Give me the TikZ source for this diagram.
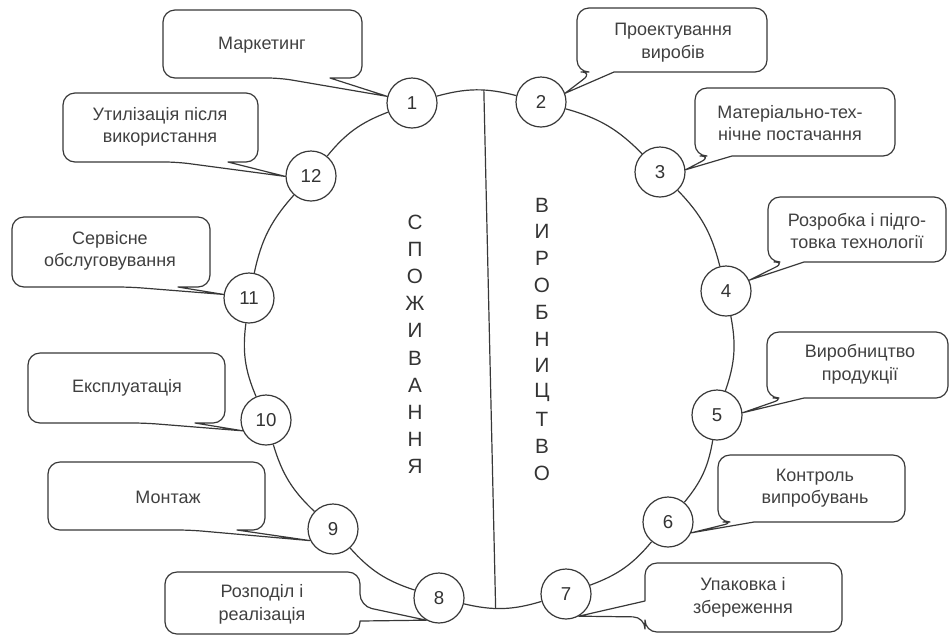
\documentclass[tikz,border=0pt]{standalone}
\usepackage{fontspec}
\setmainfont{Liberation Sans}
\begin{document}
\begin{tikzpicture}[x=0.75pt,y=-0.75pt,
  ln/.style={draw=black!78, line width=0.9pt},
  num/.style={circle, ln, fill=white, minimum size=37.5pt, inner sep=0pt, font=\fontsize{14}{16}\selectfont, text=black!80},
  lbl/.style={align=center, font=\fontsize{13.5}{17}\selectfont, text=black!75},
  bub/.style={ln, line join=round},
  vert/.style={font=\fontsize{15.5}{16}\selectfont, text=black!80}]
\useasboundingbox (0,0) rectangle (952,637);
% numbered circles
\node[num] (c1) at (412,103) {1};
\node[num] (c2) at (541,102) {2};
\node[num] (c3) at (660,172) {3};
\node[num] (c4) at (726,291) {4};
\node[num] (c5) at (717,415) {5};
\node[num] (c6) at (668,522) {6};
\node[num] (c7) at (566,594) {7};
\node[num] (c8) at (439,598) {8};
\node[num] (c9) at (333,529) {9};
\node[num] (c10) at (266,420) {10};
\node[num] (c11) at (249,298) {11};
\node[num] (c12) at (311,176) {12};
% ring
\draw[ln] (c1) to[bend left=15] node[coordinate,pos=0.6] (dtop) {} (c2);
\draw[ln] (c2) to[bend left=15] (c3);
\draw[ln] (c3) to[bend left=15] (c4);
\draw[ln] (c4) to[bend left=15] (c5);
\draw[ln] (c5) to[bend left=15] (c6);
\draw[ln] (c6) to[bend left=15] (c7);
\draw[ln] (c7) to[bend left=15] node[coordinate,pos=0.6] (dbot) {} (c8);
\draw[ln] (c8) to[bend left=15] (c9);
\draw[ln] (c9) to[bend left=15] (c10);
\draw[ln] (c10) to[bend left=15] (c11);
\draw[ln] (c11) to[bend left=15] (c12);
\draw[ln] (c12) to[bend left=15] (c1);
\draw[ln] (dtop) -- (dbot);
% vertical words
\foreach \ch [count=\i] in {С,П,О,Ж,И,В,А,Н,Н,Я}
  \node[vert] (s\i) at (415,{222+27.2*(\i-1)}) {\ch};
\foreach \ch [count=\i] in {В,И,Р,О,Б,Н,И,Ц,Т,В,О}
  \node[vert] (v\i) at (542,{205+26.8*(\i-1)}) {\ch};
% callout texts
\node[lbl] (t1) at (262,45) {Маркетинг};
\node[lbl] (t2) at (673,43) {Проектування\\виробів};
\node[lbl] (t3) at (790,123) {Матеріально-тех-\\нічне постачання};
\node[lbl] (t4) at (857,231) {Розробка і підго-\\товка технології};
\node[lbl] (t5) at (860,364) {Виробництво\\продукції};
\node[lbl] (t6) at (815,488) {Контроль\\випробувань};
\node[lbl] (t7) at (743,597) {Упаковка і\\збереження};
\node[lbl] (t8) at (262,604) {Розподіл і\\реалізація};
\node[lbl] (t9) at (168,497) {Монтаж};
\node[lbl] (t10) at (127,388) {Експлуатація};
\node[lbl] (t11) at (110,251) {Сервісне\\обслуговування};
\node[lbl] (t12) at (160,127) {Утилізація після\\використання};
% callout outlines
\draw[bub] (330,78) [rounded corners=9pt] -- (362,78) -- (362,10) -- (163,10) -- (163,78) -- (280,78) [sharp corners] -- (c1.165) -- cycle;
\draw[bub] (228,162) [rounded corners=9pt] -- (258,162) -- (258,93) -- (63,93) -- (63,162) -- (177,162) [sharp corners] -- (c12.181) -- cycle;
\draw[bub] (178,287) [rounded corners=9pt] -- (210,287) -- (210,217) -- (12,217) -- (12,287) -- (130,287) [sharp corners] -- (c11.172) -- cycle;
\draw[bub] (195,423) [rounded corners=9pt] -- (225,423) -- (225,353) -- (28,353) -- (28,423) -- (145,423) [sharp corners] -- (c10.205) -- cycle;
\draw[bub] (237,530) [rounded corners=9pt] -- (265,530) -- (265,462) -- (48,462) -- (48,530) -- (190,530) [sharp corners] -- (c9.207) -- cycle;
\draw[bub] (614,72) [rounded corners=9pt] -- (767,72) -- (767,8) -- (577,8) -- (577,72) -- (593,72) [sharp corners] -- (c2.20) -- cycle;
\draw[bub] (732,156) [rounded corners=9pt] -- (895,156) -- (895,88) -- (695,88) -- (695,156) -- (712,156) [sharp corners] -- (c3.5) -- cycle;
\draw[bub] (804,262) [rounded corners=9pt] -- (946,262) -- (946,197) -- (768,197) -- (768,262) -- (786,262) [sharp corners] -- (c4.25) -- cycle;
\draw[bub] (804,398) [rounded corners=9pt] -- (948,398) -- (948,332) -- (767,332) -- (767,398) -- (785,398) [sharp corners] -- (c5.5) -- cycle;
\draw[bub] (754,522) [rounded corners=9pt] -- (905,522) -- (905,455) -- (718,455) -- (718,522) -- (735,522) [sharp corners] -- (c6.-25) -- cycle;
\draw[bub] (645,601) [rounded corners=9pt] -- (645,563) -- (842,563) -- (842,632) -- (645,632) -- (645,617) [sharp corners] -- (c7.-60) -- cycle;
\draw[bub] (360,621) [rounded corners=9pt] -- (360,634) -- (165,634) -- (165,572) -- (360,572) -- (360,606) [sharp corners] -- (c8.240) -- cycle;
\end{tikzpicture}
\end{document}
